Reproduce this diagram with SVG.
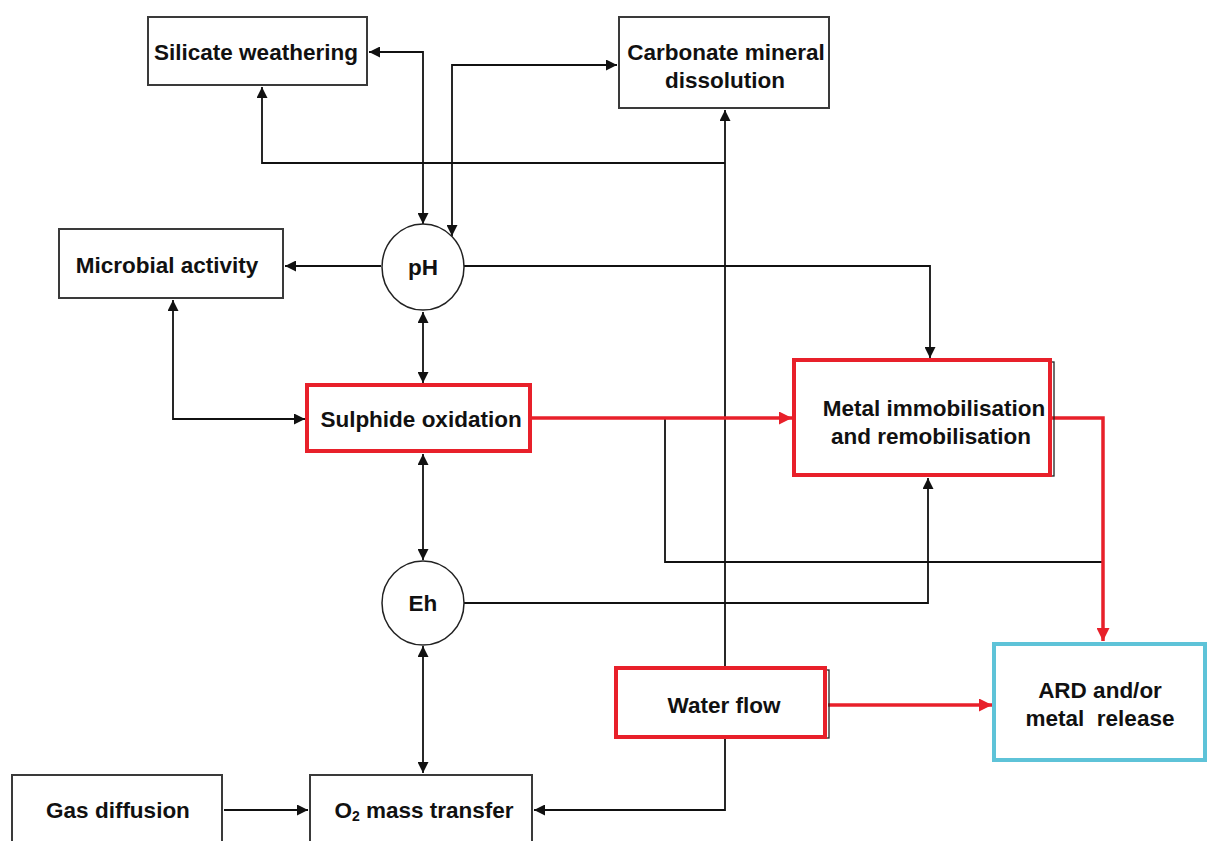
<svg xmlns="http://www.w3.org/2000/svg" width="1207" height="841" viewBox="0 0 1207 841">
<defs>
<style>
.box{fill:#fff;stroke:#3a3a3a;stroke-width:2}
.red{fill:#fff;stroke:#e8202a;stroke-width:4}
.cyan{fill:#fff;stroke:#5ec3d8;stroke-width:4}
.thin{fill:none;stroke:#222;stroke-width:1.3}
.lbl{font-family:"Liberation Sans",Arial,sans-serif;font-weight:bold;font-size:22.5px;fill:#111;text-anchor:middle;dominant-baseline:central}
.ln{fill:none;stroke:#111;stroke-width:1.8}
.rl{fill:none;stroke:#e8202a;stroke-width:3.5}
</style>
<marker id="ah" viewBox="0 0 10 10" refX="10" refY="5" markerWidth="13" markerHeight="11" markerUnits="userSpaceOnUse" orient="auto-start-reverse">
<path d="M0,0 L10,5 L0,10 z" fill="#111"/>
</marker>
<marker id="ahr" viewBox="0 0 10 10" refX="10" refY="5" markerWidth="16" markerHeight="13" markerUnits="userSpaceOnUse" orient="auto-start-reverse">
<path d="M0,0 L10,5 L0,10 z" fill="#e8202a"/>
</marker>
</defs>

<g id="connectors">
<path class="ln" d="M423,224 L423,52 L369,52" marker-start="url(#ah)" marker-end="url(#ah)"/>
<path class="ln" d="M452,236 L452,65 L617,65" marker-start="url(#ah)" marker-end="url(#ah)"/>
<path class="ln" d="M725,668 L725,110" marker-end="url(#ah)"/>
<path class="ln" d="M725,163 L262,163 L262,87" marker-end="url(#ah)"/>
<path class="ln" d="M381,266 L285,266" marker-end="url(#ah)"/>
<path class="ln" d="M423,312 L423,383" marker-start="url(#ah)" marker-end="url(#ah)"/>
<path class="ln" d="M173,300 L173,419 L305,419" marker-start="url(#ah)" marker-end="url(#ah)"/>
<path class="ln" d="M464,266 L930,266 L930,358" marker-end="url(#ah)"/>
<path class="ln" d="M665,418 L665,562 L1103,562"/>
<path class="ln" d="M464,603 L928,603 L928,478" marker-end="url(#ah)"/>
<path class="ln" d="M423,454 L423,560" marker-start="url(#ah)" marker-end="url(#ah)"/>
<path class="ln" d="M423,646 L423,773" marker-start="url(#ah)" marker-end="url(#ah)"/>
<path class="ln" d="M224,810 L308,810" marker-end="url(#ah)"/>
<path class="ln" d="M725,737 L725,810 L534,810" marker-end="url(#ah)"/>
<path class="rl" d="M532,418 L792,418" marker-end="url(#ahr)"/>
<path class="rl" d="M1052,418 L1103,418 L1103,641" marker-end="url(#ahr)"/>
<path class="rl" d="M828,705 L992,705" marker-end="url(#ahr)"/>
</g>

<g id="silicate">
<rect class="box" x="148" y="17" width="219" height="68"/>
<text class="lbl" x="256" y="52">Silicate weathering</text>
</g>
<g id="carbonate">
<rect class="box" x="619" y="17" width="210" height="91"/>
<text class="lbl" x="726" y="52">Carbonate mineral</text>
<text class="lbl" x="725" y="80">dissolution</text>
</g>
<g id="microbial">
<rect class="box" x="59" y="229" width="224" height="69"/>
<text class="lbl" x="167" y="265">Microbial activity</text>
</g>
<g id="ph">
<ellipse fill="#fff" stroke="#222" stroke-width="1.5" cx="423" cy="267" rx="41" ry="43"/>
<text class="lbl" x="423" y="267">pH</text>
</g>
<g id="sulphide">
<rect class="red" x="307" y="385" width="223" height="66"/>
<text class="lbl" x="421" y="419">Sulphide oxidation</text>
</g>
<g id="metal">
<rect class="thin" x="798" y="362" width="256" height="114"/>
<rect class="red" x="794" y="360" width="256" height="115"/>
<text class="lbl" x="934" y="408">Metal immobilisation</text>
<text class="lbl" x="931" y="436">and remobilisation</text>
</g>
<g id="eh">
<ellipse fill="#fff" stroke="#222" stroke-width="1.5" cx="423" cy="603" rx="41" ry="42"/>
<text class="lbl" x="423" y="603">Eh</text>
</g>
<g id="water">
<rect class="thin" x="620" y="670" width="209" height="68"/>
<rect class="red" x="616" y="668" width="209" height="69"/>
<text class="lbl" x="724" y="705">Water flow</text>
</g>
<g id="ard">
<rect class="cyan" x="994" y="644" width="211" height="116"/>
<text class="lbl" x="1100" y="690">ARD and/or</text>
<text class="lbl" x="1100" y="718" xml:space="preserve">metal  release</text>
</g>
<g id="gas">
<rect class="box" x="12" y="775" width="210" height="80"/>
<text class="lbl" x="118" y="810">Gas diffusion</text>
</g>
<g id="o2">
<rect class="box" x="310" y="775" width="222" height="80"/>
<text class="lbl" x="424" y="810">O<tspan font-size="14" dy="6">2</tspan><tspan dy="-6"> mass transfer</tspan></text>
</g>
</svg>
